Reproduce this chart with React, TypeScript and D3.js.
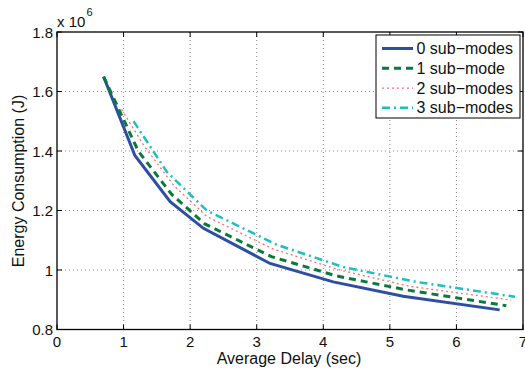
import React from "react";
import * as d3 from "d3";

const xTicks = [0, 1, 2, 3, 4, 5, 6, 7];
const yTicks = [0.8, 1.0, 1.2, 1.4, 1.6, 1.8];
const yTickLabels = ["0.8", "1", "1.2", "1.4", "1.6", "1.8"];

const seriesNames = ["0 sub\u2212modes", "1 sub\u2212mode", "2 sub\u2212modes", "3 sub\u2212modes"];

const x0 = [0.7, 1.17, 1.7, 2.2, 3.2, 4.15, 5.2, 6.65];
const y0 = [1.65, 1.385, 1.23, 1.14, 1.022, 0.96, 0.912, 0.866];
const x1 = [0.7, 1.22, 1.72, 2.22, 3.22, 4.2, 5.25, 6.75];
const y1 = [1.65, 1.4, 1.255, 1.155, 1.045, 0.98, 0.933, 0.88];
const x2 = [0.97, 1.3, 1.75, 2.25, 3.25, 4.25, 5.3, 6.82];
const y2 = [1.54, 1.42, 1.285, 1.18, 1.07, 1.0, 0.945, 0.899];
const x3 = [1.15, 1.65, 2.25, 3.3, 4.3, 5.4, 6.88];
const y3 = [1.5, 1.33, 1.2, 1.085, 1.01, 0.96, 0.91];

const seriesX = [x0, x1, x2, x3];
const seriesY = [y0, y1, y2, y3];

const styles = [
  { color: "#2d4ea2", width: 3, dash: "" },
  { color: "#0a7a3c", width: 3, dash: "7,5" },
  { color: "#ff6e6e", width: 1.3, dash: "2,3" },
  { color: "#1dc0c0", width: 2.5, dash: "8,4,2,4" },
];

export default function App() {
  const W = 525, H = 372;
  const left = 57, right = 523, top = 32, bottom = 329.5;
  const x = d3.scaleLinear().domain([0, 7]).range([left, right]);
  const y = d3.scaleLinear().domain([0.8, 1.8]).range([bottom, top]);
  const line = d3.line<[number, number]>().x(d => x(d[0])).y(d => y(d[1]));
  const font = "'Liberation Sans', Arial, Helvetica, sans-serif";
  const tickLen = 5;

  const lx0 = 376, ly0 = 35, lx1 = 520, ly1 = 118;
  const rowY = [48.5, 68.3, 88.2, 107.7];

  return (
    <svg width={W} height={H} style={{ position: "absolute", left: 0, top: 0 }} fontFamily={font}>
      <rect x={0} y={0} width={W} height={H} fill="#fff" />
      {xTicks.slice(1, -1).map(t => (
        <line key={"gx" + t} x1={x(t)} x2={x(t)} y1={top} y2={bottom} stroke="#8a8a8a" strokeWidth={1} strokeDasharray="1,3" />
      ))}
      {yTicks.slice(1, -1).map(t => (
        <line key={"gy" + t} x1={left} x2={right} y1={y(t)} y2={y(t)} stroke="#8a8a8a" strokeWidth={1} strokeDasharray="1,3" />
      ))}
      {seriesX.map((xs, i) => (
        <path
          key={"s" + i}
          d={line(xs.map((v, j) => [v, seriesY[i][j]] as [number, number])) || ""}
          fill="none"
          stroke={styles[i].color}
          strokeWidth={styles[i].width}
          strokeDasharray={styles[i].dash || undefined}
        />
      ))}
      <rect x={left} y={top} width={right - left} height={bottom - top} fill="none" stroke="#000" strokeWidth={1.3} />
      {xTicks.map(t => (
        <g key={"tx" + t}>
          <line x1={x(t)} x2={x(t)} y1={bottom} y2={bottom - tickLen} stroke="#000" />
          <line x1={x(t)} x2={x(t)} y1={top} y2={top + tickLen} stroke="#000" />
          <text x={x(t)} y={347.3} fontSize={15} textAnchor="middle" fill="#111">{t}</text>
        </g>
      ))}
      {yTicks.map((t, i) => (
        <g key={"ty" + t}>
          <line x1={left} x2={left + tickLen} y1={y(t)} y2={y(t)} stroke="#000" />
          <line x1={right} x2={right - tickLen} y1={y(t)} y2={y(t)} stroke="#000" />
          <text x={53} y={y(t) + 5.5} fontSize={15} textAnchor="end" fill="#111">{yTickLabels[i]}</text>
        </g>
      ))}
      <text x={57} y={26.5} fontSize={15} fill="#111">x 10</text>
      <text x={86.5} y={16} fontSize={11} fill="#111">6</text>
      <text x={289} y={363.5} fontSize={16} textAnchor="middle" fill="#111">Average Delay (sec)</text>
      <text transform="translate(24, 181) rotate(-90)" fontSize={16} textAnchor="middle" fill="#111">Energy Consumption (J)</text>
      <rect x={lx0} y={ly0} width={lx1 - lx0} height={ly1 - ly0} fill="#fff" stroke="#000" strokeWidth={1} />
      {seriesNames.map((n, i) => (
        <g key={"l" + i}>
          <line x1={382} x2={413} y1={rowY[i]} y2={rowY[i]} stroke={styles[i].color} strokeWidth={styles[i].width} strokeDasharray={styles[i].dash || undefined} />
          <text x={416.5} y={rowY[i] + 5.5} fontSize={16} fill="#111">{n}</text>
        </g>
      ))}
    </svg>
  );
}
